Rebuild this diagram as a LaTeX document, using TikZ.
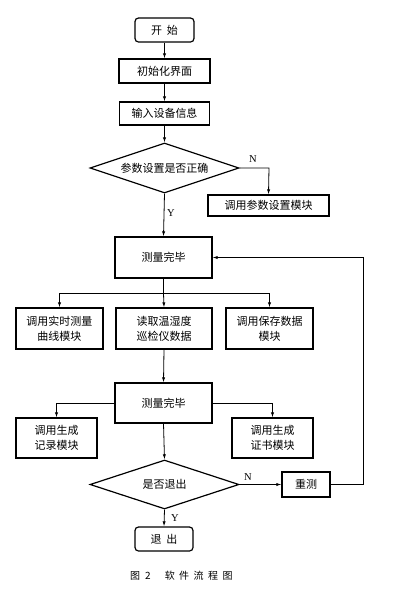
\documentclass[tikz,border=0pt]{standalone}
\usepackage{fontspec}
\setmainfont{Liberation Serif}
\newfontfamily\cjk{Noto Sans CJK SC}
\usetikzlibrary{shapes.geometric,arrows.meta}
\tikzset{
  box/.style={draw,line width=1.2pt,inner sep=1pt,align=center,font=\cjk\fontsize{11}{15}\selectfont},
  term/.style={box,rounded corners=3.5pt},
  dec/.style={draw,line width=1.2pt,diamond,aspect=3,inner sep=0pt,font=\cjk\fontsize{11}{15}\selectfont},
  conn/.style={line width=0.8pt},
  arr/.style={conn,-{Latex[length=5pt,width=3.2pt]}},
  lab/.style={font=\fontsize{10.5}{12}\selectfont,inner sep=0pt}
}
\begin{document}
\begin{tikzpicture}[x=1pt,y=-1pt]
\useasboundingbox (0,0) rectangle (401,598);
\node[term,minimum width=59pt,minimum height=24pt] (start) at (164.5,30) {开\hspace{5pt}始};
\node[box,minimum width=91pt,minimum height=24pt] (init) at (164.5,71) {初始化界面};
\node[box,minimum width=90pt,minimum height=23pt] (input) at (164.5,113.5) {输入设备信息};
\node[dec,minimum width=149pt,minimum height=50pt] (dec1) at (164.5,168) {参数设置是否正确};
\node[box,minimum width=121pt,minimum height=21pt] (setp) at (268.5,205.5) {调用参数设置模块};
\node[box,minimum width=97pt,minimum height=41pt] (meas1) at (163.5,257.5) {测量完毕};
\node[box,minimum width=87pt,minimum height=41pt] (curve) at (59.5,328.5) {调用实时测量\\曲线模块};
\node[box,minimum width=96pt,minimum height=41pt] (read) at (164,328.5) {读取温湿度\\巡检仪数据};
\node[box,minimum width=87pt,minimum height=41pt] (save) at (269.5,328.5) {调用保存数据\\模块};
\node[box,minimum width=97pt,minimum height=40pt] (meas2) at (163.5,403) {测量完毕};
\node[box,minimum width=81pt,minimum height=40pt] (rec) at (56.5,438) {调用生成\\记录模块};
\node[box,minimum width=81pt,minimum height=40pt] (cert) at (272.5,438) {调用生成\\证书模块};
\node[dec,minimum width=149pt,minimum height=49pt] (dec2) at (164.5,484.5) {是否退出};
\node[box,minimum width=48pt,minimum height=25pt] (retest) at (306,484.5) {重测};
\node[term,minimum width=58pt,minimum height=24pt] (exit) at (164,539) {退\hspace{5pt}出};
\node[font=\cjk\fontsize{10}{12}\selectfont,inner sep=0pt,anchor=west] (cap) at (130,576) {图\hspace{5pt}2\hspace{14pt}软\hspace{4.5pt}件\hspace{4.5pt}流\hspace{4.5pt}程\hspace{4.5pt}图};

\coordinate (n1) at (269,168);
\coordinate (j1) at (163.5,293);
\coordinate (jl) at (59.5,293);
\coordinate (jr) at (269.5,293);
\coordinate (l2) at (56.5,403);
\coordinate (r2) at (272.5,403);
\coordinate (b1) at (363,484.5);
\coordinate (b2) at (363,257.5);

\draw[arr] (start) -- (init);
\draw[arr] (init) -- (input);
\draw[arr] (input) -- (dec1);
\draw[arr] (dec1.east) -- (n1) -- (setp.north);
\draw[arr] (dec1.south) -- (meas1.north);
\node[lab] (ylab1) at (171,213) {Y};
\node[lab] (nlab1) at (253,159) {N};
\draw[conn] (meas1.south) -- (j1);
\draw[conn] (jl) -- (jr);
\draw[arr] (jl) -- (curve.north);
\draw[arr] (j1) -- (read.north);
\draw[arr] (jr) -- (save.north);
\draw[arr] (read.south) -- (meas2.north);
\draw[arr] (meas2.west) -- (l2) -- (rec.north);
\draw[arr] (meas2.east) -- (r2) -- (cert.north);
\draw[arr] (meas2.south) -- (dec2.north);
\draw[arr] (dec2.east) -- (retest.west);
\node[lab] (nlab2) at (248,477) {N};
\draw[arr] (retest.east) -- (b1) -- (b2) -- (meas1.east);
\draw[arr] (dec2.south) -- (exit.north);
\node[lab] (ylab2) at (175,518) {Y};
\end{tikzpicture}
\end{document}
